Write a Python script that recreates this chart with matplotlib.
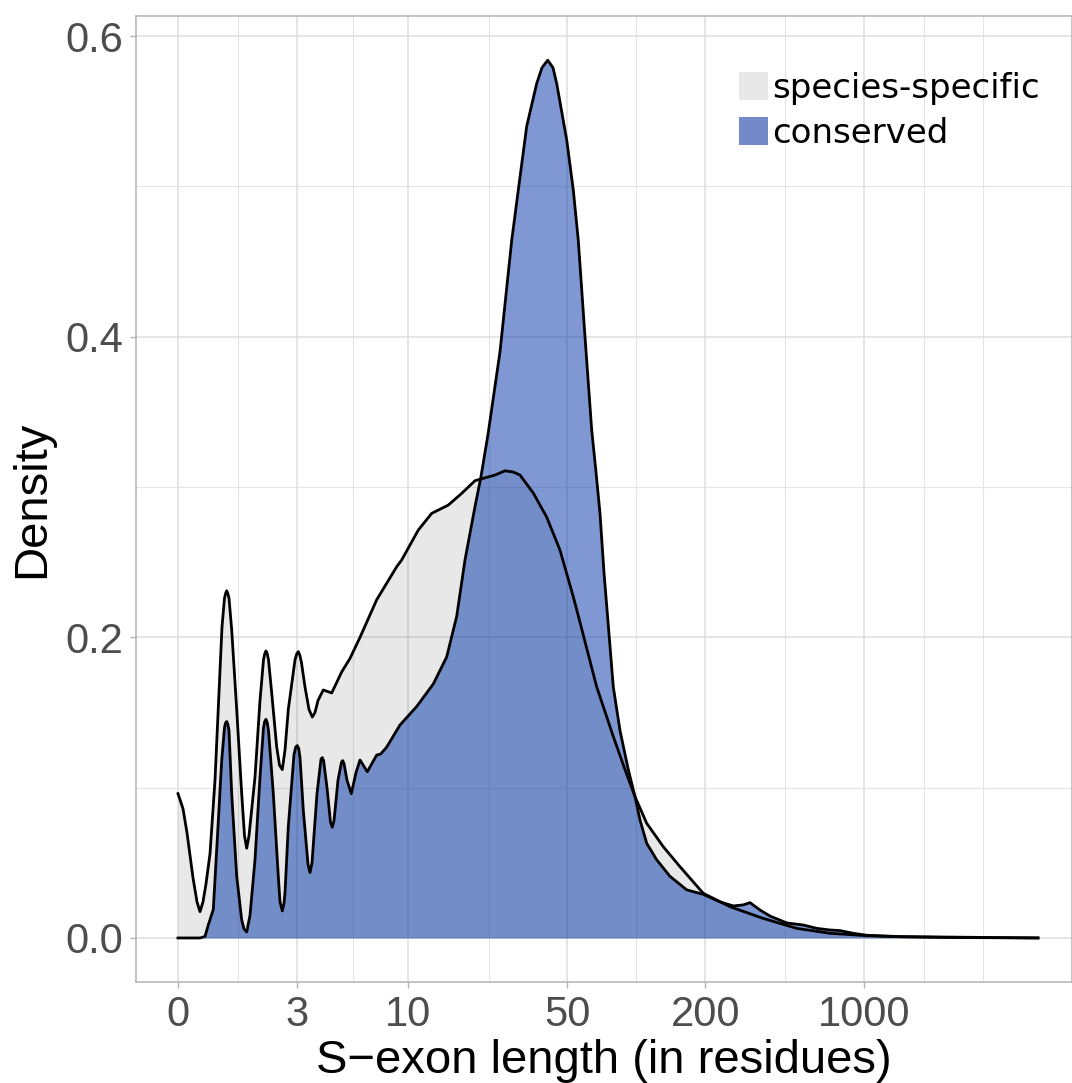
import matplotlib
matplotlib.use("Agg")
from matplotlib import pyplot as plt
from matplotlib.patches import Patch

# x in log-like length units (0 = tick "0"), y = density
spec_x = [0.0, 0.05, 0.09, 0.15, 0.19, 0.22, 0.25, 0.28, 0.32, 0.37, 0.44, 0.465, 0.475, 0.487,
          0.499, 0.51, 0.537, 0.587, 0.637, 0.665, 0.687, 0.71, 0.77, 0.82, 0.855, 0.867, 0.88,
          0.893, 0.905, 0.937, 0.987, 1.015, 1.043, 1.07, 1.103, 1.17, 1.187, 1.203, 1.219, 1.235,
          1.27, 1.31, 1.343, 1.37, 1.40, 1.453, 1.537, 1.637, 1.72, 1.82, 1.987, 2.187, 2.237,
          2.403, 2.537, 2.703, 2.837, 2.97, 3.053, 3.17, 3.27, 3.353, 3.42, 3.553, 3.687, 3.82,
          3.953, 4.02, 4.187, 4.353, 4.47, 4.57, 4.687, 4.853, 5.02, 5.253, 5.52, 5.853, 6.187,
          6.52, 6.887, 7.22, 7.72, 8.60]
spec_y = [0.096, 0.086, 0.070, 0.040, 0.024, 0.0175, 0.024, 0.036, 0.056, 0.105, 0.207, 0.226,
          0.229, 0.231, 0.229, 0.226, 0.205, 0.152, 0.096, 0.068, 0.0597, 0.068, 0.107, 0.158,
          0.185, 0.189, 0.191, 0.189, 0.185, 0.163, 0.127, 0.115, 0.112, 0.125, 0.152, 0.185,
          0.189, 0.1905, 0.188, 0.183, 0.167, 0.152, 0.147, 0.150, 0.158, 0.165, 0.163, 0.177,
          0.186, 0.200, 0.225, 0.247, 0.2515, 0.2714, 0.2825, 0.288, 0.2958, 0.3042, 0.3058,
          0.308, 0.3108, 0.310, 0.308, 0.296, 0.280, 0.258, 0.227, 0.210, 0.167, 0.134, 0.112,
          0.094, 0.0763, 0.0607, 0.0474, 0.0297, 0.0208, 0.013, 0.0064, 0.0031, 0.0015, 0.0008,
          0.0003, 0.0]

cons_x = [0.0, 0.22, 0.27, 0.30, 0.353, 0.40, 0.437, 0.465, 0.475, 0.487, 0.499, 0.51, 0.537,
          0.587, 0.637, 0.66, 0.687, 0.72, 0.77, 0.82, 0.855, 0.867, 0.88, 0.893, 0.905, 0.953,
          1.003, 1.02, 1.043, 1.06, 1.07, 1.103, 1.16, 1.177, 1.193, 1.207, 1.22, 1.253, 1.30,
          1.32, 1.34, 1.39, 1.43, 1.443, 1.456, 1.49, 1.525, 1.543, 1.56, 1.60, 1.635, 1.647,
          1.66, 1.69, 1.733, 1.78, 1.82, 1.893, 1.987, 2.027, 2.087, 2.22, 2.387, 2.553, 2.687,
          2.787, 2.87, 2.97, 3.03, 3.10, 3.22, 3.337, 3.403, 3.487, 3.587, 3.64, 3.697, 3.75,
          3.787, 3.887, 3.953, 4.003, 4.07, 4.137, 4.18, 4.22, 4.26, 4.303, 4.353, 4.42, 4.503,
          4.57, 4.62, 4.687, 4.787, 4.92, 5.087, 5.253, 5.42, 5.553, 5.653, 5.72, 5.82, 5.92,
          6.087, 6.253, 6.387, 6.52, 6.62, 6.753, 6.887, 7.22, 8.60]
cons_y = [0.0, 0.0, 0.001, 0.008, 0.019, 0.074, 0.118, 0.140, 0.143, 0.144, 0.142, 0.138, 0.096,
          0.041, 0.012, 0.006, 0.004, 0.015, 0.052, 0.107, 0.140, 0.144, 0.1455, 0.143, 0.138,
          0.096, 0.041, 0.024, 0.018, 0.023, 0.030, 0.074, 0.122, 0.127, 0.128, 0.126, 0.120,
          0.085, 0.049, 0.0435, 0.050, 0.096, 0.119, 0.120, 0.118, 0.100, 0.077, 0.0736, 0.078,
          0.105, 0.117, 0.118, 0.116, 0.105, 0.096, 0.110, 0.1184, 0.1106, 0.1217, 0.1224, 0.127,
          0.1417, 0.154, 0.169, 0.187, 0.214, 0.2515, 0.287, 0.307, 0.335, 0.39, 0.464, 0.4976,
          0.540, 0.5685, 0.579, 0.584, 0.579, 0.5685, 0.531, 0.4976, 0.464, 0.40, 0.338, 0.31,
          0.2825, 0.243, 0.208, 0.167, 0.138, 0.112, 0.094, 0.0785, 0.063, 0.052, 0.041, 0.032,
          0.029, 0.024, 0.0213, 0.022, 0.0235, 0.0186, 0.0146, 0.010, 0.0086, 0.0064, 0.0053,
          0.0049, 0.0031, 0.0018, 0.0009, 0.0]

tick_pos = [0, 1.19, 2.295, 3.89, 5.274, 6.859]
tick_lab = ['0', '3', '10', '50', '200', '1000']
minor_pos = [0.601, 1.754, 3.106, 4.583, 6.067, 7.46, 8.049]
ytick_pos = [0.0, 0.2, 0.4, 0.6]
ytick_lab = ['0.0', '0.2', '0.4', '0.6']
yminor_pos = [0.1, 0.3, 0.5]

plt.rcParams['font.family'] = ['Liberation Sans', 'DejaVu Sans']

fig = plt.figure(figsize=(10.72, 10.83), dpi=100)
ax = fig.add_axes([136 / 1072, 1 - 982 / 1083, 936 / 1072, 966 / 1083])

ax.fill_between(spec_x, 0, spec_y, color='black', alpha=0.09, lw=0)
ax.plot(spec_x, spec_y, color='black', lw=2)
ax.fill_between(cons_x, 0, cons_y, color='#0033A9', alpha=0.5, lw=0)
ax.plot(cons_x, cons_y, color='black', lw=2)

ax.set_xlim(-0.42, 8.94)
ax.set_ylim(-0.0293, 0.6134)
ax.set_xticks(tick_pos, tick_lab)
ax.set_xticks(minor_pos, minor=True)
ax.set_yticks(ytick_pos, ytick_lab)
ax.set_yticks(yminor_pos, minor=True)
ax.grid(which='major', color='#DEDEDE', lw=1.1)
ax.grid(which='minor', color='#E4E4E4', lw=0.8)
ax.set_axisbelow(True)
ax.tick_params(which='major', length=4.3, width=1.0, color='#B3B3B3',
               labelsize=30, labelcolor='#4D4D4D', pad=5)
ax.tick_params(which='minor', length=0)
for s in ax.spines.values():
    s.set_color('#B3B3B3')
    s.set_linewidth(1.1)

ax.set_xlabel('S\u2212exon length (in residues)', fontsize=34, labelpad=3)
ax.set_ylabel('Density', fontsize=34, labelpad=8)

handles = [Patch(facecolor='#E8E8E8', edgecolor='none', label='species-specific'),
           Patch(facecolor='#7389C8', edgecolor='none', label='conserved')]
ax.legend(handles=handles, loc='upper left', bbox_to_anchor=(0.644, 0.942),
          prop={'family': 'DejaVu Sans', 'size': 24.5}, frameon=False, borderpad=0,
          borderaxespad=0, handlelength=0.85, handleheight=0.88, handletextpad=0.12,
          labelspacing=0.35)

fig.savefig('out.png', dpi=100)
